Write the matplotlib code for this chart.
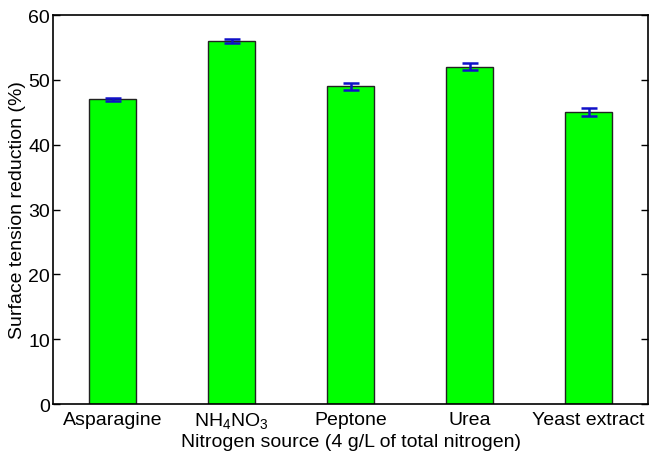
import matplotlib
matplotlib.use("Agg")
import matplotlib.pyplot as plt
import numpy as np

plt.rcParams['font.family'] = ['Liberation Sans', 'DejaVu Sans']

categories = ["Asparagine", r"NH$_4$NO$_3$", "Peptone", "Urea", "Yeast extract"]
values = [47.0, 56.0, 49.0, 52.0, 45.0]
errors = [0.25, 0.35, 0.5, 0.55, 0.6]

plt.rcParams['mathtext.fontset'] = 'custom'
plt.rcParams['mathtext.rm'] = 'Liberation Sans'

fig = plt.figure(figsize=(6.49, 4.56), dpi=100)
ax = fig.add_axes([0.0817, 0.1118, 0.917, 0.853])
x = np.arange(1, len(categories) + 1)
ax.bar(x, values, width=0.4, color='#00ff00', edgecolor='#222222', linewidth=1.0, zorder=2)
ax.errorbar(x, values, yerr=errors, fmt='none', ecolor='#1010c8', elinewidth=1.8,
            capsize=5.5, capthick=1.8, zorder=3)
ax.set_xlim(0.5, 5.5)
ax.set_ylim(0, 60)
ax.set_yticks([0, 10, 20, 30, 40, 50, 60])
ax.set_xticks(x)
ax.set_xticklabels(categories, fontsize=14)
ax.tick_params(axis='y', direction='in', length=5, right=True, labelsize=14, width=1, pad=2)
ax.tick_params(axis='x', length=0, pad=5)
for s in ax.spines.values():
    s.set_linewidth(1.2)
ax.set_xlabel("Nitrogen source (4 g/L of total nitrogen)", fontsize=14, labelpad=1)
ax.set_ylabel("Surface tension reduction (%)", fontsize=14, labelpad=2)
fig.savefig("out.png", dpi=100)
